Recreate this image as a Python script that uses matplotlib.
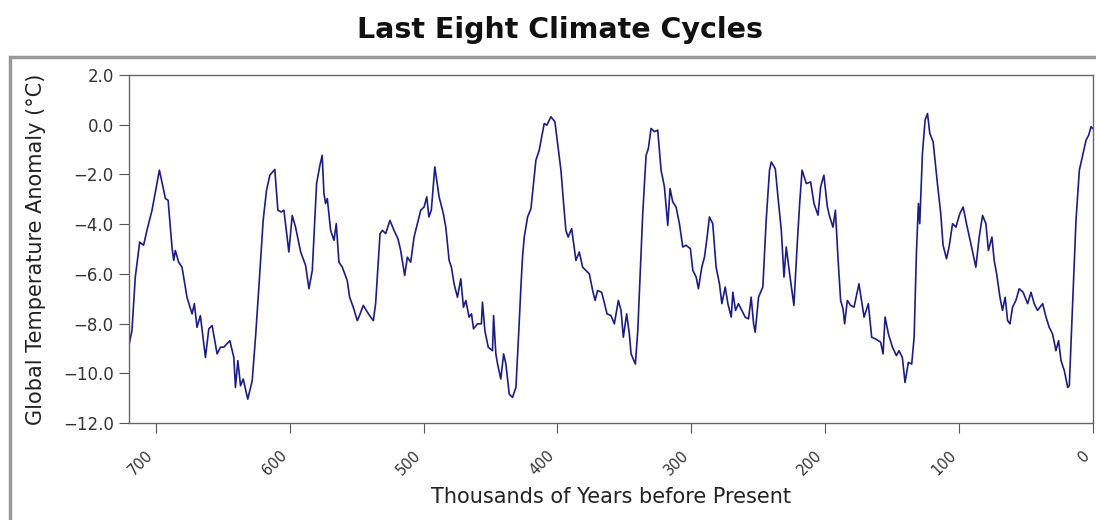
import matplotlib
matplotlib.use("Agg")
import matplotlib.pyplot as plt
from matplotlib.patches import Rectangle

# thousands of years before present, temperature anomaly (deg C)
kyr = [720.3, 717.8, 715.3, 712.0, 709.1, 706.6, 702.8, 697.3, 692.8, 690.8,
       687.9, 686.6, 685.4, 682.9, 680.4, 676.7, 672.9, 671.2, 669.2, 666.7,
       662.9, 660.4, 657.9, 654.2, 651.7, 649.2, 644.7, 641.7, 640.5, 638.7,
       636.7, 634.7, 631.3, 628.0, 625.5, 623.0, 619.8, 617.3, 614.8, 611.1,
       608.8, 606.3, 604.3, 600.6, 598.1, 595.6, 591.8, 588.1, 585.6, 583.1,
       579.9, 577.4, 575.7, 574.4, 573.2, 571.9, 569.4, 566.9, 565.2, 563.2,
       560.7, 557.0, 555.2, 552.5, 549.5, 548.3, 545.0, 542.0,
       539.5, 537.5, 535.8, 532.5, 530.7, 528.3, 525.1, 522.1, 519.1, 517.1,
       514.1, 512.1, 509.6, 507.1, 504.6, 502.1, 499.6, 497.6, 496.0, 494.2,
       491.6, 488.4, 485.2, 483.4, 480.9, 479.2, 477.2, 474.7, 472.2, 470.2,
       468.4, 466.0, 464.2, 462.7, 459.7, 456.8, 456.0, 454.2, 451.7, 448.5,
       447.7, 446.0, 444.7, 442.3, 440.2, 438.5, 436.0, 433.6, 431.0, 428.6,
       427.3, 426.1, 424.8, 422.3, 419.8, 416.1, 413.6, 409.9, 407.9, 404.9,
       401.9, 399.9, 397.4, 395.4, 393.7, 392.0, 389.4, 386.2, 383.7, 381.2,
       376.2, 373.7, 371.9, 370.0, 367.0, 364.5,
       363.0, 360.0, 357.5, 354.5, 352.5, 350.8, 348.3, 346.3, 345.0, 341.8,
       340.0, 338.1, 336.3, 333.8, 332.1, 330.1, 327.6, 325.1, 322.6, 320.1,
       317.6, 315.9, 313.9, 311.4, 308.9, 306.4, 303.9, 300.7, 298.9, 296.4,
       294.7, 292.2, 290.2, 288.2, 286.5, 284.0, 281.5, 279.0, 277.2, 274.7,
       272.7, 270.2, 269.0, 267.0, 264.8, 262.3, 259.8, 257.3, 255.3, 253.5,
       252.3, 249.8, 246.6, 244.1, 241.6, 240.3, 237.3, 235.3, 232.8, 230.8,
       229.1, 226.6, 223.4, 220.9, 219.1, 217.3, 214.1, 210.9, 208.4, 205.4,
       203.4, 201.0, 198.4, 196.6, 194.2, 192.4, 190.5, 188.5, 186.7, 185.5,
       183.5, 181.0,
       178.5, 174.8, 171.0, 167.8, 165.3, 162.3, 158.6, 156.8, 155.3, 152.8,
       149.8, 146.8, 144.9, 142.4, 140.4, 137.9, 135.4, 133.6, 131.9, 130.4,
       129.4, 127.4, 125.4, 123.6, 121.9, 119.4, 116.2, 113.7, 112.0, 109.4,
       107.5, 104.9, 102.4, 99.5, 97.0, 94.5, 91.2, 87.5, 85.0, 82.5,
       80.0, 78.1, 75.5, 73.8, 72.0, 69.5, 67.6, 65.6, 63.8, 62.0,
       60.1, 57.6, 55.1, 52.2, 48.8, 46.3, 43.9, 41.4, 37.6, 35.1,
       32.7, 30.2, 27.7, 25.7, 23.9, 21.4, 18.9, 17.7, 15.2, 12.7,
       10.2, 7.7, 5.2, 3.2, 1.5, 0.2]

temp = [-8.95, -8.28, -6.13, -4.72, -4.85, -4.25, -3.44, -1.83, -2.97, -3.04,
        -4.92, -5.46, -5.06, -5.53, -5.73, -6.94, -7.61, -7.20, -8.15, -7.68,
        -9.36, -8.21, -8.08, -9.22, -8.95, -8.95, -8.69, -9.36, -10.57, -9.49,
        -10.50, -10.23, -11.04, -10.30, -8.55, -6.53, -3.85, -2.64, -2.03, -1.80,
        -3.44, -3.51, -3.44, -5.12, -3.65, -4.12, -5.12, -5.66, -6.60, -5.86,
        -2.37, -1.63, -1.23, -2.77, -3.17, -2.97, -4.25, -4.65, -3.98, -5.53,
        -5.73, -6.27, -6.94, -7.34, -7.88, -7.74, -7.27, -7.54,
        -7.74, -7.88, -7.20, -4.38, -4.25, -4.38, -3.85, -4.25, -4.59, -5.06,
        -6.06, -5.33, -5.53, -4.52, -3.98, -3.44, -3.31, -2.90, -3.71, -3.44,
        -1.70, -2.90, -3.58, -4.12, -5.46, -5.73, -6.40, -6.94, -6.20, -7.34,
        -7.07, -7.74, -7.61, -8.21, -8.01, -8.01, -7.14, -8.28, -8.95, -9.09,
        -7.68, -9.22, -9.63, -10.23, -9.22, -9.63, -10.84, -10.97, -10.57, -8.01,
        -6.53, -5.33, -4.52, -3.71, -3.38, -1.43, -1.02, 0.05, -0.02, 0.32,
        0.12, -0.76, -1.83, -3.17, -4.25, -4.52, -4.18, -5.46, -5.12, -5.73,
        -6.00, -6.67, -7.07, -6.67, -6.74, -7.27,
        -7.61, -7.68, -8.01, -7.07, -7.47, -8.55, -7.61, -8.42, -9.22, -9.63,
        -8.28, -5.86, -3.58, -1.23, -0.96, -0.15, -0.28, -0.22, -1.83, -2.50,
        -4.05, -2.57, -3.10, -3.31, -3.98, -4.92, -4.85, -4.99, -5.86, -6.13,
        -6.60, -5.73, -5.33, -4.52, -3.71, -3.98, -5.73, -6.40, -7.20, -6.53,
        -7.20, -7.74, -6.74, -7.47, -7.20, -7.47, -7.74, -7.81, -6.94, -8.01,
        -8.35, -6.94, -6.53, -3.85, -1.83, -1.50, -1.77, -2.90, -4.25, -6.13,
        -4.92, -5.99, -7.27, -4.79, -3.17, -1.83, -2.37, -2.30, -3.17, -3.64,
        -2.50, -2.03, -3.31, -3.71, -4.12, -3.44, -5.33, -7.07, -7.41, -8.01,
        -7.07, -7.27,
        -7.34, -6.40, -7.74, -7.20, -8.55, -8.62, -8.75, -9.22, -7.74, -8.42,
        -8.95, -9.29, -9.09, -9.36, -10.37, -9.56, -9.63, -8.55, -5.19, -3.17,
        -3.98, -1.16, 0.19, 0.45, -0.35, -0.69, -2.37, -3.58, -4.85, -5.39,
        -4.92, -3.98, -4.12, -3.58, -3.31, -3.98, -4.79, -5.73, -4.52, -3.65,
        -3.98, -5.06, -4.52, -5.46, -5.99, -6.94, -7.47, -6.94, -7.88, -8.01,
        -7.34, -7.07, -6.60, -6.74, -7.20, -6.74, -7.20, -7.47, -7.20, -7.74,
        -8.15, -8.42, -9.09, -8.69, -9.49, -9.90, -10.57, -10.50, -7.20, -3.85,
        -1.83, -1.23, -0.62, -0.42, -0.08, -0.15]

x_ticks = [700, 600, 500, 400, 300, 200, 100, 0]
y_ticks = [-12, -10, -8, -6, -4, -2, 0, 2]

fig = plt.figure(figsize=(10.96, 5.2), dpi=100)

# grey frame around the plot area (cut off at right and bottom)
frame = Rectangle((10 / 1096, -0.05), 1.05, 1 - 57 / 520 + 0.05,
                  transform=fig.transFigure, fill=False,
                  edgecolor="#999999", linewidth=2.5, clip_on=False)
fig.patches.append(frame)

ax = fig.add_axes([129 / 1096, 1 - 423 / 520, (1093 - 129) / 1096, (423 - 75) / 520])
ax.plot(kyr, temp, color="#1c1c86", linewidth=1.2)

ax.set_xlim(720, 0)
ax.set_ylim(-12, 2)
ax.set_xticks(x_ticks)
ax.set_yticks(y_ticks)
ax.set_yticklabels([f"{v:.1f}".replace("-", "\u2212") for v in y_ticks])
ax.tick_params(direction="out", length=7, colors="#555555", labelcolor="#333333")
ax.tick_params(axis="y", labelsize=12, pad=4)
ax.tick_params(axis="x", labelsize=10.5, pad=11)
for lbl in ax.get_xticklabels():
    lbl.set_rotation(45)
    lbl.set_ha("right")
for s in ax.spines.values():
    s.set_color("#666666")
    s.set_linewidth(1.0)

ax.set_xlabel("Thousands of Years before Present", fontsize=15, color="#222222", labelpad=6)
ax.set_ylabel("Global Temperature Anomaly (\u00b0C)", fontsize=15, color="#222222", labelpad=12)

fig.text(560 / 1096, 1 - 30 / 520, "Last Eight Climate Cycles", ha="center", va="center",
         fontsize=20.5, fontweight="bold", color="#111111")

fig.savefig("out.png", dpi=100)
